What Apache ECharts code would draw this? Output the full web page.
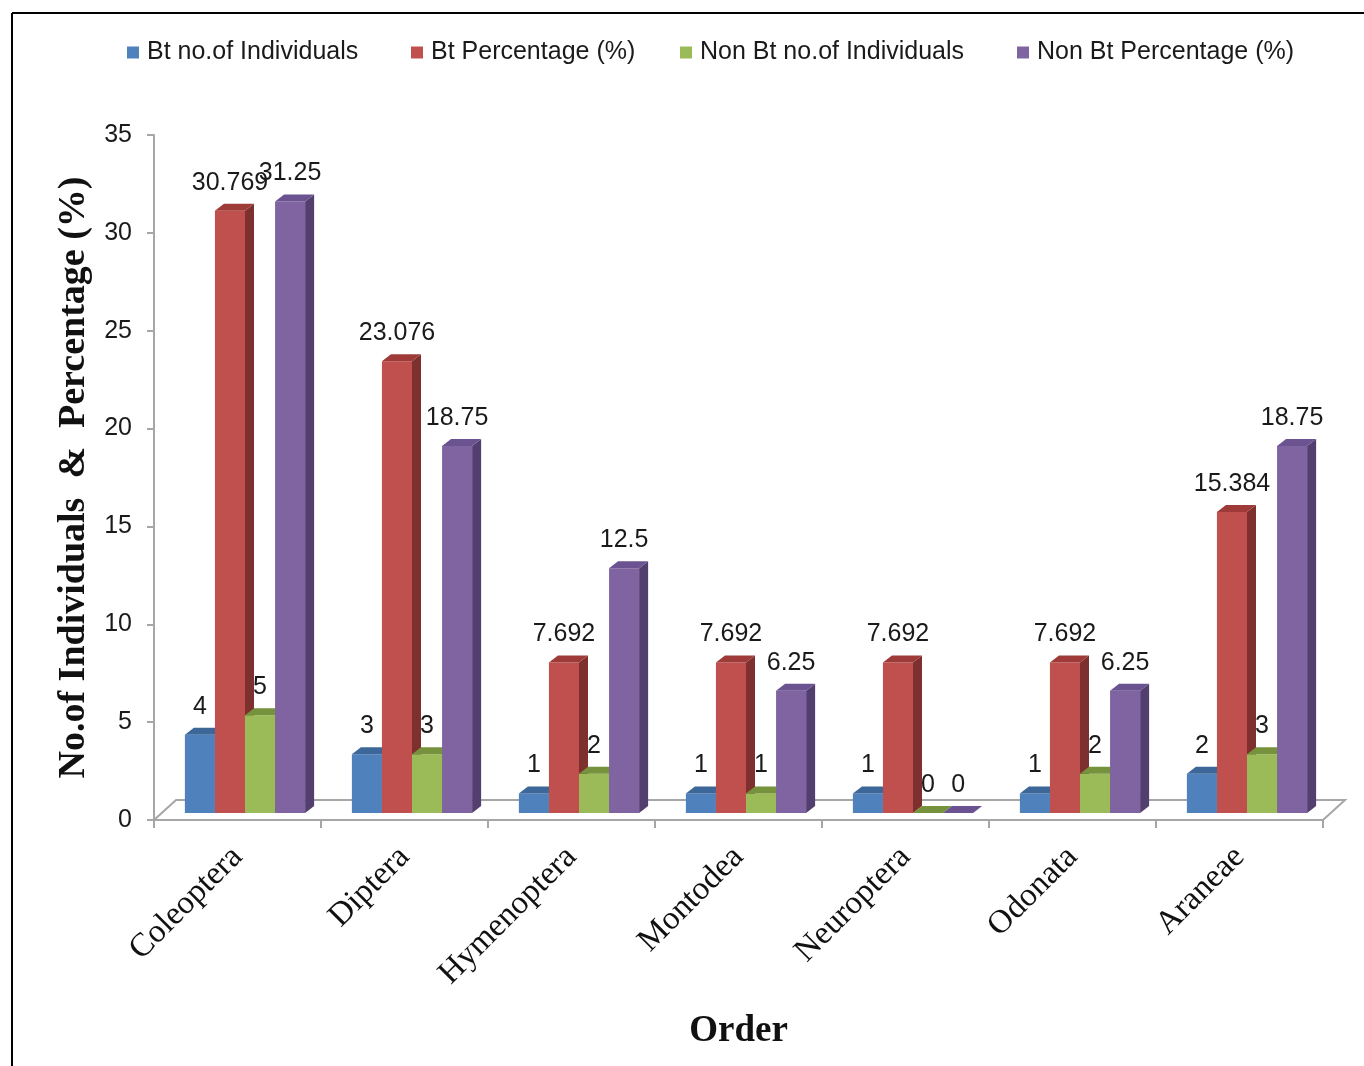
<!DOCTYPE html>
<html>
<head>
<meta charset="utf-8">
<script src="https://cdn.jsdelivr.net/npm/echarts@6/dist/echarts.min.js"></script>
<style>
html,body{margin:0;padding:0;background:#fff}
#chart{width:1364px;height:1066px}
</style>
</head>
<body>
<div id="chart"></div>
<script>
var orders = ['Coleoptera', 'Diptera', 'Hymenoptera', 'Montodea', 'Neuroptera', 'Odonata', 'Araneae'];
var btNo = [4, 3, 1, 1, 1, 1, 2];
var btPct = [30.769, 23.076, 7.692, 7.692, 7.692, 7.692, 15.384];
var nonBtNo = [5, 3, 2, 1, 0, 2, 3];
var nonBtPct = [31.25, 18.75, 12.5, 6.25, 0, 6.25, 18.75];

var names = ['Bt no.of Individuals', 'Bt Percentage (%)', 'Non Bt no.of Individuals', 'Non Bt Percentage (%)'];
var values = [btNo, btPct, nonBtNo, nonBtPct];
// front / side / top colours (excel 2007 style)
var front = ['#4F81BD', '#C0504D', '#9BBB59', '#8064A2'];
var side = ['#385D8A', '#7D302E', '#6E8B3D', '#533F6F'];
var top3d = ['#3C6798', '#9E3B39', '#76923C', '#6A5390'];
var legendX = [122, 406, 675, 1012];

var DX = 9, DY = 7;       // bar depth
var FDX = 22, FDY = 20;   // floor depth
var LIFT = 7;             // bars stand a bit behind the front edge

function barRenderer(s) {
    return function (params, api) {
        var cat = api.value(0), v = api.value(1);
        var base = api.coord([cat, 0]);
        var tp = api.coord([cat, v]);
        var band = api.size([1, 0])[0];
        var bw = band * 0.18;
        var x0 = base[0] - 2 * bw + 7.5 + s * bw;
        var x1 = x0 + bw;
        var yb = base[1] - LIFT;
        var yt = tp[1] - LIFT;
        var kids = [];
        if (yb - yt > 0) {
            kids.push({type: 'rect', shape: {x: x0, y: yt, width: bw, height: yb - yt},
                style: {fill: front[s]}});
            kids.push({type: 'polygon', shape: {points: [[x1, yt], [x1 + DX, yt - DY], [x1 + DX, yb - DY], [x1, yb]]},
                style: {fill: side[s]}});
        }
        kids.push({type: 'polygon', shape: {points: [[x0, yt], [x0 + DX, yt - DY], [x1 + DX, yt - DY], [x1, yt]]},
            style: {fill: top3d[s]}});
        kids.push({type: 'text', z2: 50, style: {
            x: x0 + bw / 2, y: yt - 28, text: String(v), align: 'center', verticalAlign: 'middle',
            fontFamily: 'Liberation Sans, Arial, sans-serif', fontSize: 25, fill: '#1a1a1a'}});
        return {type: 'group', children: kids};
    };
}

function floorRenderer(params, api) {
    var c = params.coordSys;
    var xl = c.x, xr = c.x + c.width, yf = c.y + c.height;
    var st = {stroke: '#A6A6A6', lineWidth: 2, fill: null};
    return {type: 'group', children: [
        {type: 'polyline', shape: {points: [[xl, yf], [xl + FDX, yf - FDY], [xr + FDX, yf - FDY], [xr, yf]]}, style: st}
    ]};
}

var series = [{
    type: 'custom', name: 'floor', renderItem: floorRenderer, data: [[0, 0]], silent: true, z: 1
}];
for (var s = 0; s < 4; s++) {
    var d = [];
    for (var i = 0; i < orders.length; i++) d.push([i, values[s][i]]);
    series.push({
        type: 'custom', name: names[s], renderItem: barRenderer(s),
        itemStyle: {color: front[s]}, data: d, z: 2 + s
    });
}

var legends = [];
for (var k = 0; k < 4; k++) {
    legends.push({
        data: [names[k]], left: legendX[k], top: 35, icon: 'rect',
        itemWidth: 12, itemHeight: 12, itemGap: 8,
        textStyle: {fontFamily: 'Liberation Sans, Arial, sans-serif', fontSize: 25, color: '#1a1a1a', padding: [0, 0, 0, 3]}
    });
}

var myChart = echarts.init(document.getElementById('chart'));
var option = {
    animation: false,
    backgroundColor: '#fff',
    legend: legends,
    grid: {left: 154, right: 41, top: 135, bottom: 246},
    xAxis: {
        type: 'category', data: orders,
        name: 'Order', nameLocation: 'middle', nameGap: 211,
        nameTextStyle: {fontFamily: 'Liberation Serif, Times New Roman, serif', fontWeight: 'bold', fontSize: 37, color: '#111', verticalAlign: 'middle'},
        axisLine: {lineStyle: {color: '#A6A6A6', width: 2}},
        axisTick: {show: true, length: 8, lineStyle: {color: '#A6A6A6', width: 2}},
        axisLabel: {rotate: 45, margin: 32, fontFamily: 'Liberation Serif, Times New Roman, serif', fontSize: 33, color: '#111'}
    },
    yAxis: {
        type: 'value', min: 0, max: 35, interval: 5,
        name: 'No.of Individuals  &  Percentage (%)', nameLocation: 'middle', nameGap: 80,
        nameTextStyle: {fontFamily: 'Liberation Serif, Times New Roman, serif', fontWeight: 'bold', fontSize: 38, color: '#111', verticalAlign: 'middle'},
        axisLine: {show: true, lineStyle: {color: '#A6A6A6', width: 2}},
        axisTick: {show: true, length: 7, lineStyle: {color: '#A6A6A6', width: 2}},
        splitLine: {show: false},
        axisLabel: {margin: 22, fontFamily: 'Liberation Sans, Arial, sans-serif', fontSize: 25, color: '#1a1a1a'}
    },
    graphic: [
        {type: 'line', shape: {x1: 12, y1: 13, x2: 1364, y2: 13}, style: {stroke: '#000', lineWidth: 2}},
        {type: 'line', shape: {x1: 12, y1: 13, x2: 12, y2: 1066}, style: {stroke: '#000', lineWidth: 2}}
    ],
    series: series
};
myChart.setOption(option);
</script>
</body>
</html>
